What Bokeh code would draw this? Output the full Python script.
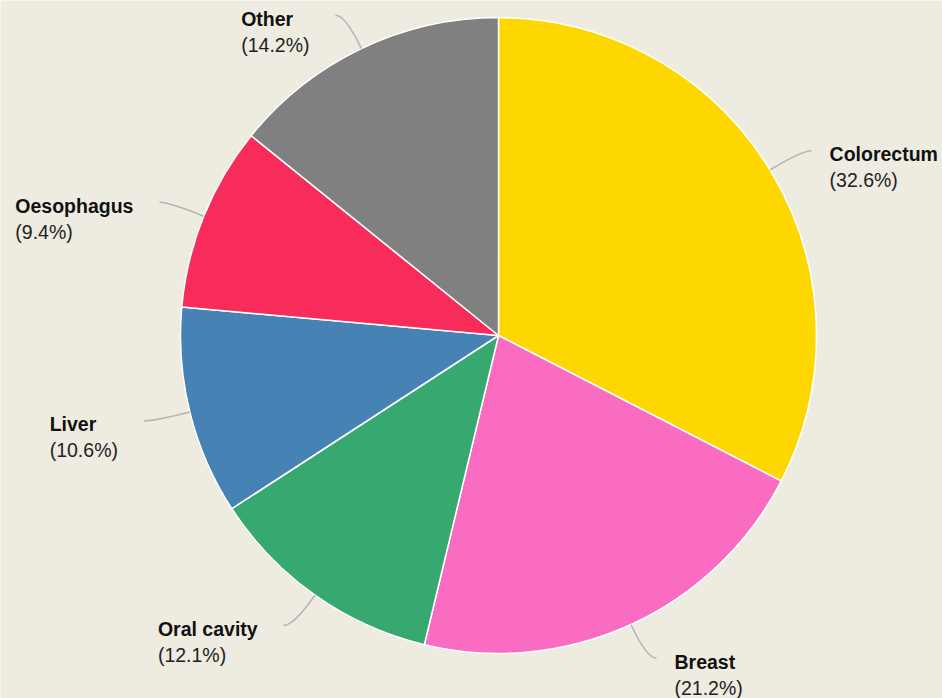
import math
from bokeh.plotting import figure
from bokeh.models import Range1d, ColumnDataSource
from bokeh.core.properties import value
from bokeh.embed import file_html
from bokeh.resources import INLINE

# ---- data ----
categories = ["Colorectum", "Breast", "Oral cavity", "Liver", "Oesophagus", "Other"]
shares = [32.6, 21.2, 12.1, 10.6, 9.4, 14.2]
colors = ["#FFD700", "#F96CC1", "#36A870", "#4682B4", "#F72C5B", "#808080"]
pct_labels = ["(32.6%)", "(21.2%)", "(12.1%)", "(10.6%)", "(9.4%)", "(14.2%)"]

# ---- layout constants ----
W, H = 942, 698
CX, CY = 498, 335          # pie centre in pixels
R = 318                    # radius
R_BEND = 355
HSEG = 10
FONT = "Liberation Sans"
FS = 19.5

# Arial / Liberation Sans advance widths (1/1000 em)
BOLD_W = {'O': 778, 't': 333, 'h': 611, 'e': 556, 'r': 389, 'C': 722, 'o': 611, 'l': 278,
          'c': 556, 'u': 611, 'm': 889, 'B': 722, 'a': 556, 's': 556, 'L': 611, 'i': 278,
          'v': 556, 'y': 556, 'p': 611, 'g': 611, ' ': 278}
REG_W = {'(': 333, ')': 333, '%': 889, '.': 278, ' ': 278}
for d in "0123456789":
    REG_W[d] = 556


def text_w(s, table):
    return sum(table.get(ch, 556) for ch in s) * FS / 1000.0


total = sum(shares)
p = figure(width=W, height=H, x_range=Range1d(-CX, W - CX), y_range=Range1d(-(H - CY), CY),
           x_axis_type=None, y_axis_type=None, toolbar_location=None,
           output_backend="svg", min_border=0, background_fill_color="#EEEBE0",
           border_fill_color="#EEEBE0", outline_line_color=None)
p.grid.visible = False

starts, ends = [], []
cum = 0.0
mids = []
for s in shares:
    a0 = math.pi / 2 - 2 * math.pi * cum / total
    cum += s
    a1 = math.pi / 2 - 2 * math.pi * cum / total
    starts.append(a0)
    ends.append(a1)
    mids.append((a0 + a1) / 2)

src = ColumnDataSource(dict(start=starts, end=ends, color=colors))
p.wedge(x=0, y=0, radius=R, start_angle="start", end_angle="end", direction="clock",
        fill_color="color", line_color="white", line_width=1.5, source=src)

# leader lines and labels
lx0, ly0, lx1, ly1, lcx, lcy = [], [], [], [], [], []
nx, ny, px_, py_ = [], [], [], []
for i, a in enumerate(mids):
    ex, ey = R * math.cos(a), R * math.sin(a)
    bx, by = R_BEND * math.cos(a), R_BEND * math.sin(a)
    right = math.cos(a) >= 0
    endx = bx + (HSEG if right else -HSEG)
    lx0.append(ex); ly0.append(ey)
    lcx.append(bx); lcy.append(by)
    lx1.append(endx); ly1.append(by)
    if right:
        tx = endx + 18
    else:
        bw = max(text_w(categories[i], BOLD_W), text_w(pct_labels[i], REG_W))
        tx = endx - 26 - bw
    nx.append(tx); ny.append(by - 3.5)
    px_.append(tx); py_.append(by - 29.5)

p.quadratic(x0=lx0, y0=ly0, x1=lx1, y1=ly1, cx=lcx, cy=lcy,
            line_color="#B4B4B0", line_width=1.5)

p.text(x=nx, y=ny, text=categories, text_font=value(FONT), text_font_style="bold",
       text_font_size=f"{FS}px", text_color="#111111", text_align="left",
       text_baseline="alphabetic")
p.text(x=px_, y=py_, text=pct_labels, text_font=value(FONT),
       text_font_size=f"{FS}px", text_color="#222222", text_align="left",
       text_baseline="alphabetic")

open("out.html", "w").write(file_html(p, INLINE))
